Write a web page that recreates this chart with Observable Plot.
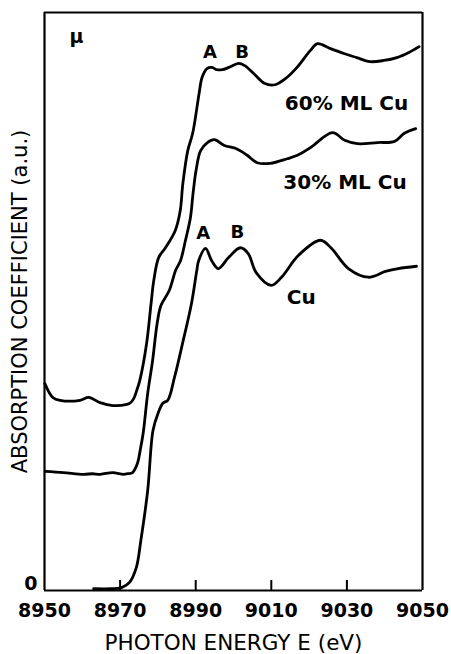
<!DOCTYPE html>
<html>
<head>
<meta charset="utf-8">
<script src="https://cdn.jsdelivr.net/npm/d3@7"></script>
<script src="https://cdn.jsdelivr.net/npm/@observablehq/plot@0.6"></script>
<style>
  html, body { margin: 0; padding: 0; background: #fff; }
  svg { display: block; }
</style>
</head>
<body>
<div id="chart"></div>
<script>
// 60% ML Cu
const e60  = [8950.1, 8952.2, 8954.1, 8959.4, 8961.7, 8964.7, 8968.1, 8971.8, 8972.6, 8973.6, 8974.4, 8975.2, 8977.0, 8978.2, 8978.9, 8980.2, 8982.0, 8984.6, 8985.9, 8986.6, 8987.9, 8989.2, 8990.9, 8991.7, 8993.0, 8994.3, 8995.6, 8997.0, 8998.8, 9001.4, 9003.0, 9005.4, 9008.3, 9011.0, 9014.2, 9016.8, 9020.3, 9022.2, 9025.5, 9029.2, 9032.6, 9036.1, 9039.8, 9043.2, 9046.4, 9049.1];
const mu60 = [35.8, 33.4, 32.9, 32.9, 33.4, 32.5, 32.0, 32.2, 32.4, 33.2, 34.6, 36.3, 42.7, 49.7, 53.6, 57.6, 59.3, 62.3, 65.7, 70.4, 76.1, 79.1, 86.0, 88.8, 90.3, 90.5, 90.1, 90.1, 90.5, 91.2, 90.8, 89.4, 87.7, 87.5, 88.8, 90.5, 93.4, 94.6, 93.8, 92.9, 92.2, 91.5, 91.7, 92.2, 93.1, 94.1];

// 30% ML Cu
const e30  = [8950.2, 8955.0, 8960.3, 8962.7, 8964.8, 8968.0, 8970.9, 8972.0, 8973.3, 8974.6, 8975.3, 8976.1, 8977.3, 8978.6, 8979.8, 8980.8, 8983.0, 8984.7, 8986.0, 8987.3, 8988.6, 8989.3, 8990.1, 8991.3, 8993.1, 8994.9, 8997.6, 9000.5, 9003.6, 9006.3, 9009.7, 9014.2, 9016.9, 9020.3, 9026.2, 9029.4, 9032.8, 9038.1, 9042.6, 9045.2, 9048.2];
const mu30 = [20.6, 20.4, 20.1, 20.2, 20.1, 20.4, 20.1, 20.2, 20.4, 22.0, 24.2, 27.2, 34.1, 39.8, 46.2, 49.3, 51.9, 55.4, 57.1, 60.6, 64.5, 68.7, 72.7, 76.1, 77.5, 78.0, 77.0, 76.5, 75.3, 74.0, 73.9, 74.7, 75.3, 76.6, 79.2, 77.9, 77.3, 77.5, 77.7, 79.1, 79.9];

// Cu
const eCu  = [8963.0, 8967.7, 8970.4, 8972.5, 8974.3, 8975.5, 8977.3, 8978.7, 8980.0, 8981.3, 8982.6, 8984.4, 8986.5, 8988.9, 8990.3, 8990.8, 8992.6, 8994.2, 8996.0, 8998.7, 9001.8, 9003.9, 9006.0, 9010.0, 9012.7, 9017.2, 9023.0, 9025.9, 9030.4, 9035.7, 9040.2, 9043.6, 9048.4];
const muCu = [0.3, 0.3, 0.5, 1.4, 4.0, 8.7, 17.3, 27.7, 30.6, 32.4, 32.9, 36.9, 42.7, 49.7, 55.4, 57.1, 59.2, 57.1, 55.7, 57.6, 59.3, 58.3, 55.0, 52.8, 54.2, 58.0, 60.6, 59.2, 55.7, 54.2, 55.2, 55.7, 56.1];

const xTicks = [8950, 8970, 8990, 9010, 9030, 9050];
const innerTicks = [8970, 8990, 9010, 9030];
const yTicks = [0];
const xDomain = [8950, 9050];
const yDomain = [0, 100];

// peak labels
const peakText = ["A", "B", "A", "B"];
const peakE    = [8993.8, 9002.3, 8992.0, 9001.0];
const peakMu   = [93.1, 93.1, 61.8, 61.9];

// series labels
const nameText = ["60% ML Cu", "30% ML Cu", "Cu"];
const nameE    = [9029.9, 9029.5, 9017.9];
const nameMu   = [84.3, 70.6, 50.7];

const xTitle = "PHOTON ENERGY E (eV)";
const yTitle = "ABSORPTION COEFFICIENT (a.u.)";
const muSymbol = "μ";

const toRows = (es, ms) => es.map((e, i) => ({e, m: ms[i]}));
const d60 = toRows(e60, mu60);
const d30 = toRows(e30, mu30);
const dCu = toRows(eCu, muCu);
const peaks = peakText.map((t, i) => ({t, e: peakE[i], m: peakMu[i]}));
const names = nameText.map((t, i) => ({t, e: nameE[i], m: nameMu[i]}));

const lineOpts = {x: "e", y: "m", stroke: "black", strokeWidth: 2.8, curve: "catmull-rom", strokeLinejoin: "round", strokeLinecap: "round"};

const chart = Plot.plot({
  width: 451,
  height: 654,
  marginLeft: 44,
  marginRight: 29,
  marginTop: 12,
  marginBottom: 64,
  x: {domain: xDomain},
  y: {domain: yDomain},
  style: {fontFamily: "DejaVu Sans", background: "white"},
  marks: [
    // frame edges
    Plot.ruleX(xDomain, {stroke: "black", strokeWidth: 2.2}),
    Plot.ruleY(yDomain, {stroke: "black", strokeWidth: 2.2}),
    // inner tick marks pointing up from the bottom edge
    Plot.ruleX(innerTicks, {stroke: "black", strokeWidth: 2, insetTop: 568}),
    Plot.axisX(xTicks, {tickSize: 0, tickPadding: 13, fontSize: 19, fontWeight: "bold", fill: "black", label: null, tickFormat: d => String(d)}),
    Plot.axisY(yTicks, {tickSize: 0, tickPadding: 7, fontSize: 19, fontWeight: "bold", fill: "black", label: null, dy: -7}),
    Plot.line(d60, lineOpts),
    Plot.line(d30, lineOpts),
    Plot.line(dCu, lineOpts),
    Plot.text(peaks, {x: "e", y: "m", text: "t", fontSize: 18, fontWeight: "bold", fill: "black"}),
    Plot.text(names, {x: "e", y: "m", text: "t", fontSize: 20, fontWeight: "bold", fill: "black", style: "letter-spacing:1.3px"}),
    Plot.text([muSymbol], {frameAnchor: "top-left", textAnchor: "middle", lineAnchor: "middle", dx: 32, dy: 24, fontSize: 19, fontWeight: "bold", fill: "black"}),
    Plot.text([xTitle], {frameAnchor: "bottom", textAnchor: "middle", lineAnchor: "middle", dy: 53, fontSize: 21.5, fill: "black", style: "letter-spacing:0.3px"}),
    Plot.text([yTitle], {frameAnchor: "left", textAnchor: "middle", lineAnchor: "middle", dx: -24, rotate: -90, fontSize: 21, fill: "black"})
  ]
});
document.getElementById("chart").append(chart);
</script>
</body>
</html>
